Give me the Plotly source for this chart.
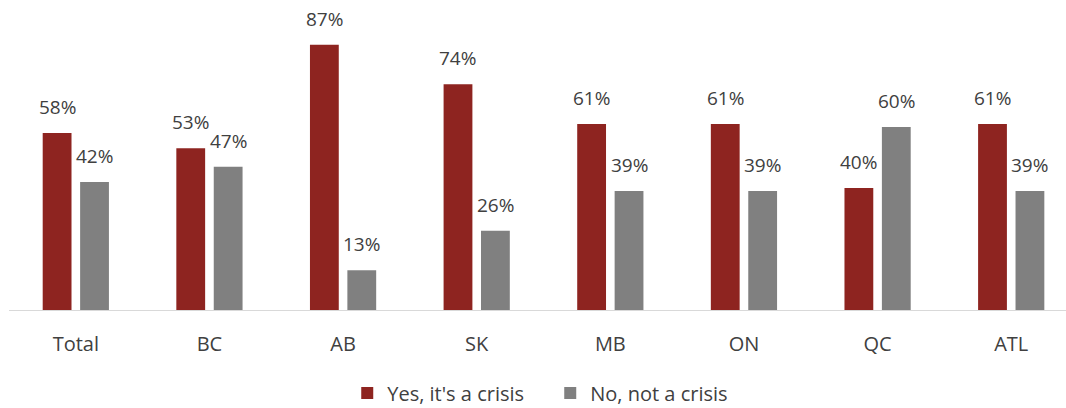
import plotly.graph_objects as go

regions = ["Total", "BC", "AB", "SK", "MB", "ON", "QC", "ATL"]
yes_crisis = [58, 53, 87, 74, 61, 61, 40, 61]
no_crisis = [42, 47, 13, 26, 39, 39, 60, 39]

RED = "#8e2420"
GREY = "#808080"
TEXT = "#404040"
FONT = "Open Sans, Lato, sans-serif"
FS_VALUE = 19
FS_LABEL = 20

W, H = 1066, 408
M = dict(l=9, r=0, t=5, b=98, autoexpand=False)
X_RANGE = [-0.5, 7.41]
BARGAP = 0.44

fig = go.Figure()
fig.add_trace(go.Bar(
    x=regions, y=yes_crisis, name="Yes, it's a crisis",
    marker=dict(color=RED, line=dict(width=0)),
))
fig.add_trace(go.Bar(
    x=regions, y=no_crisis, name="No, not a crisis",
    marker=dict(color=GREY, line=dict(width=0)),
))

# value labels sit a little above each bar, centred on it
band_px = (W - M["l"] - M["r"]) / (X_RANGE[1] - X_RANGE[0])
slot_px = band_px * (1 - BARGAP) / 2
for values, shift in ((yes_crisis, -slot_px / 2), (no_crisis, slot_px / 2)):
    for cat, v in zip(regions, values):
        fig.add_annotation(
            x=cat, y=v, text=f"{v}%", showarrow=False,
            xanchor="center", yanchor="bottom", xshift=shift, yshift=11,
            font=dict(size=FS_VALUE, color=TEXT, family=FONT),
        )

fig.update_layout(
    width=W, height=H, margin=M,
    paper_bgcolor="white", plot_bgcolor="white",
    barmode="group", bargap=BARGAP, bargroupgap=0.23,
    font=dict(family=FONT, size=FS_LABEL, color=TEXT),
    showlegend=True,
    legend=dict(
        orientation="h", x=0.32, xanchor="left", y=-0.272, yanchor="middle",
        font=dict(size=FS_LABEL, color=TEXT, family=FONT),
        itemwidth=30, entrywidth=158, entrywidthmode="pixels",
    ),
)
fig.update_xaxes(
    range=X_RANGE, showgrid=False, zeroline=False, automargin=False,
    showline=True, linecolor="#d9d9d9", linewidth=1,
    ticks="", ticklabelstandoff=16,
    tickfont=dict(size=FS_LABEL, color=TEXT, family=FONT),
)
fig.update_yaxes(
    range=[0, 100], showgrid=False, zeroline=False, showline=False,
    showticklabels=False, ticks="", automargin=False,
)

fig.write_html("out.html")
